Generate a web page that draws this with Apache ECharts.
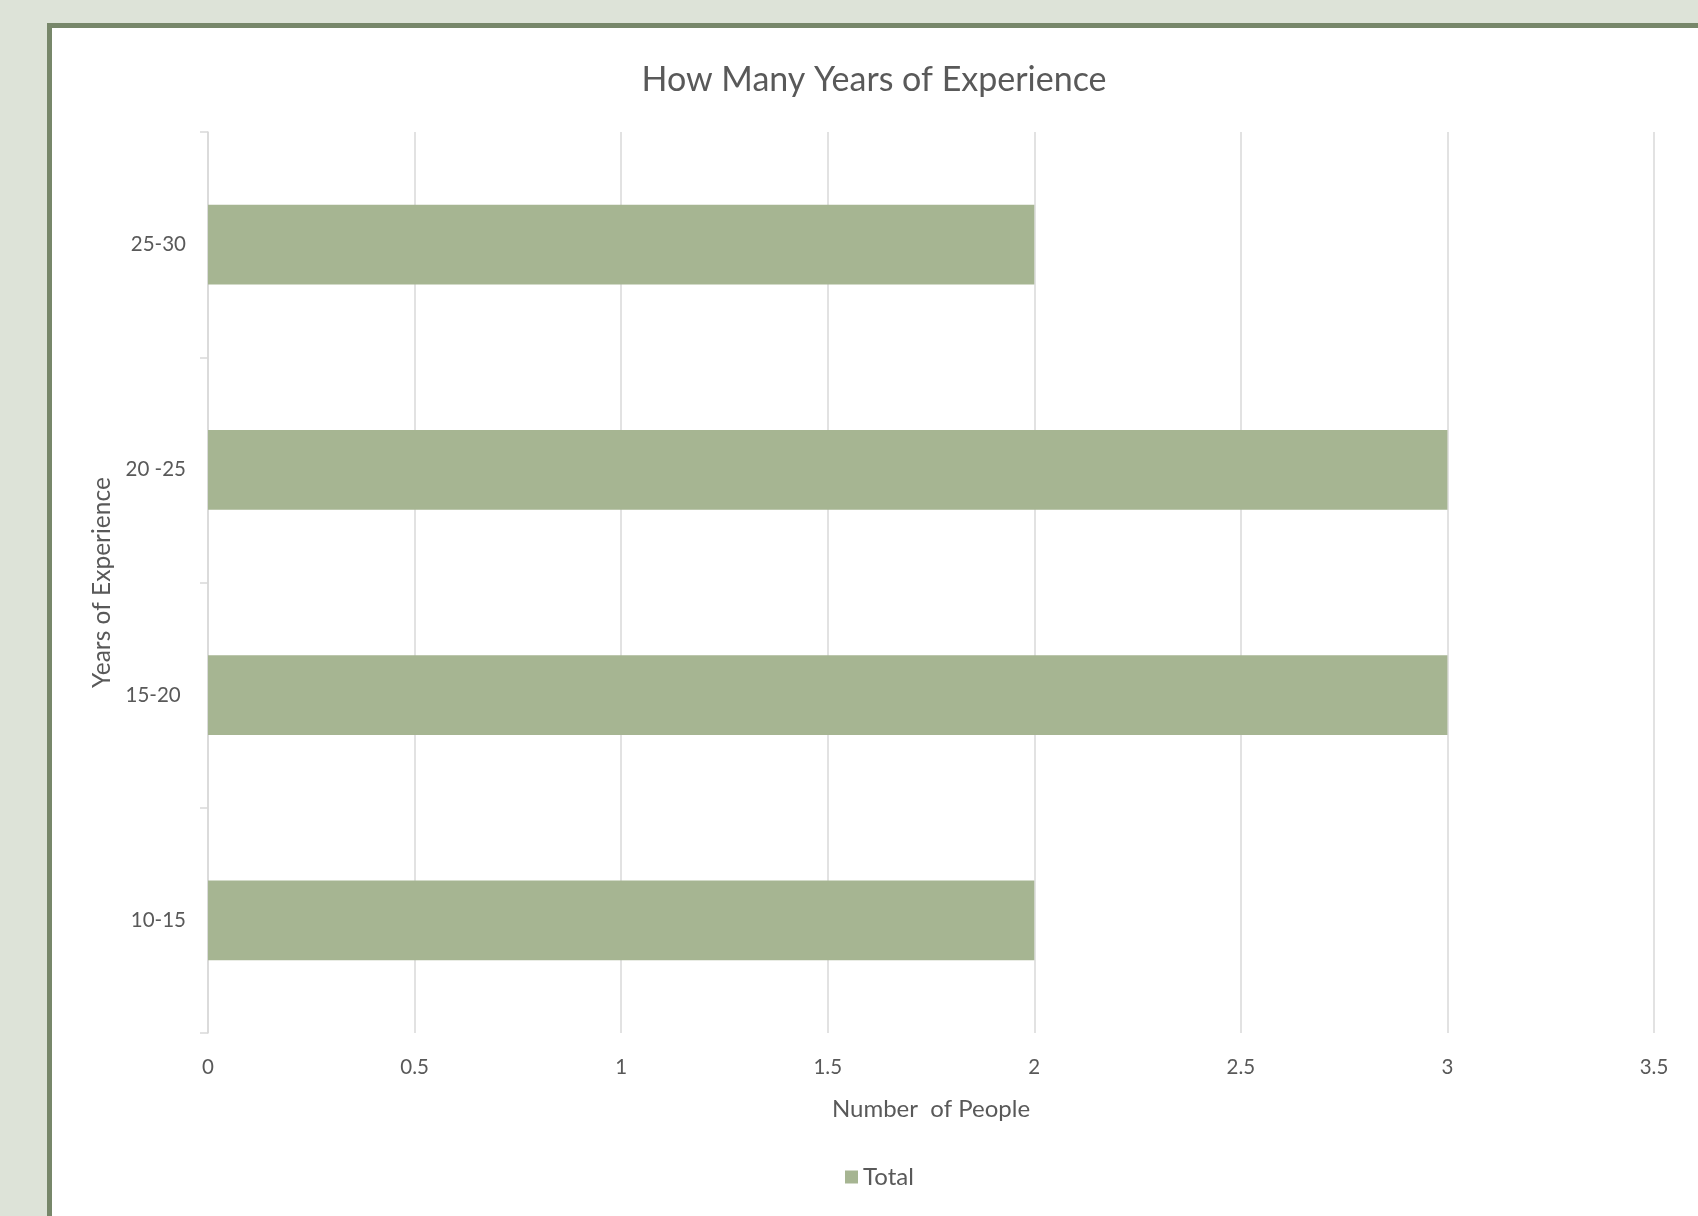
<!DOCTYPE html>
<html>
<head>
<meta charset="utf-8">
<script src="https://cdn.jsdelivr.net/npm/echarts@6/dist/echarts.min.js"></script>
<style>
  html, body { margin: 0; padding: 0; width: 1698px; height: 1216px; background: #dde3d8; overflow: hidden; }
  #frame { position: absolute; left: 47px; top: 23px; right: 0; bottom: 0; background: #ffffff;
           border-left: 5px solid #77876a; border-top: 5px solid #77876a; }
  #chart { position: absolute; left: 0; top: 0; width: 1698px; height: 1216px; }
</style>
</head>
<body>
<div id="frame"></div>
<div id="chart"></div>
<script>
// Experience brackets, bottom to top
const categories = ['10-15', '15-20 ', '20 -25', '25-30'];
const totals = [2, 3, 3, 2];
const xTicks = { min: 0, max: 3.5, interval: 0.5 };

const textColor = '#595959';
const fontFamily = 'Lato, "Open Sans", sans-serif';

const chart = echarts.init(document.getElementById('chart'), null, { renderer: 'canvas' });
chart.setOption({
  backgroundColor: 'transparent',
  textStyle: { fontFamily: fontFamily, color: textColor },
  title: {
    text: 'How Many Years of Experience',
    left: 869,
    textAlign: 'center',
    top: 58,
    textStyle: { fontFamily: fontFamily, fontSize: 34, fontWeight: 'normal', color: textColor }
  },
  legend: {
    bottom: 22,
    left: 840,
    itemWidth: 13,
    itemHeight: 13,
    itemGap: 7,
    icon: 'rect',
    textStyle: { fontFamily: fontFamily, fontSize: 24, color: textColor },
    data: ['Total']
  },
  grid: { left: 208, right: 44, top: 132, bottom: 183, containLabel: false },
  xAxis: {
    type: 'value',
    min: xTicks.min,
    max: xTicks.max,
    interval: xTicks.interval,
    name: 'Number  of People',
    nameLocation: 'middle',
    nameGap: 64,
    nameTextStyle: { fontFamily: fontFamily, fontSize: 24, color: textColor },
    axisLine: { show: false },
    axisTick: { show: false },
    axisLabel: { margin: 24, fontSize: 20.5, color: textColor, fontFamily: fontFamily },
    splitLine: { show: true, lineStyle: { color: '#d9d9d9', width: 1.5 } }
  },
  yAxis: {
    type: 'category',
    data: categories,
    name: 'Years of Experience',
    nameLocation: 'middle',
    nameGap: 92,
    nameRotate: 90,
    nameTextStyle: { fontFamily: fontFamily, fontSize: 24.5, color: textColor },
    axisLine: { show: true, lineStyle: { color: '#d9d9d9', width: 1.5 } },
    axisTick: { show: true, length: 8, lineStyle: { color: '#d9d9d9', width: 1.5 } },
    axisLabel: { margin: 22, fontSize: 20.5, color: textColor, fontFamily: fontFamily }
  },
  series: [{
    name: 'Total',
    type: 'bar',
    data: totals,
    barWidth: '35.5%',
    itemStyle: { color: '#a6b592' },
    silent: true
  }],
  animation: false
});
</script>
</body>
</html>
